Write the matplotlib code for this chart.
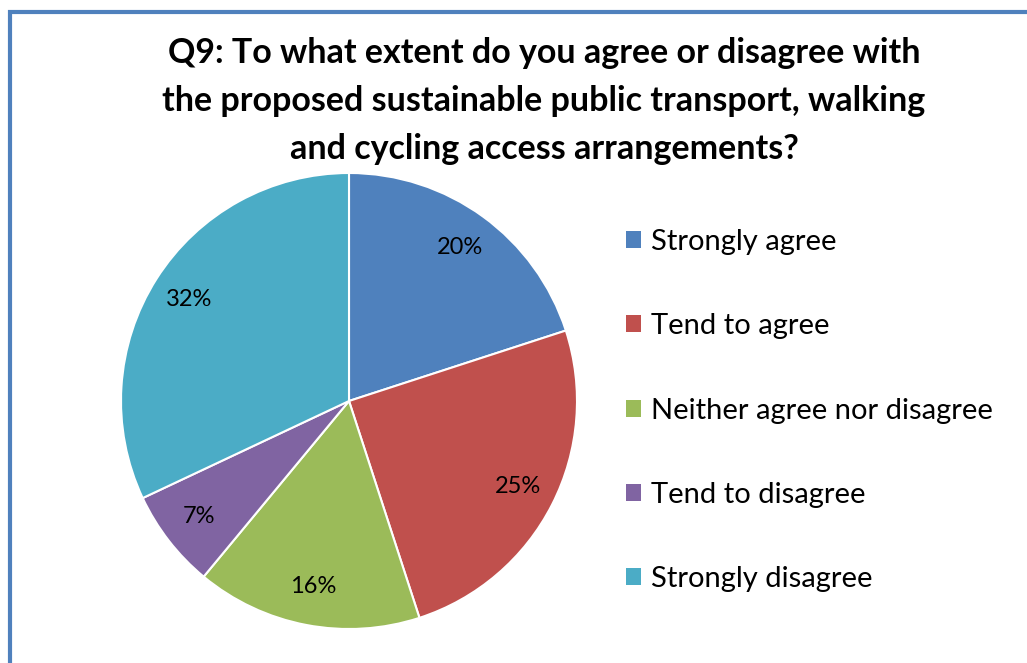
import matplotlib
matplotlib.use("Agg")
import matplotlib.pyplot as plt
from matplotlib.patches import Rectangle, Patch

plt.rcParams['font.family'] = ['Lato', 'DejaVu Sans']

# Datos
categorias = ['Strongly agree', 'Tend to agree', 'Neither agree nor disagree',
              'Tend to disagree', 'Strongly disagree']
porcentajes = [20, 25, 16, 7, 32]
colores = ['#4F81BD', '#C0504D', '#9BBB59', '#8064A2', '#4BACC6']
titulo = ('Q9: To what extent do you agree or disagree with\n'
          'the proposed sustainable public transport, walking\n'
          'and cycling access arrangements?')

W, H = 1027, 663
fig = plt.figure(figsize=(W / 100, H / 100), dpi=100)

# Borde azul del gráfico
fig.patches.append(Rectangle((10 / W, -0.05), 1.1, 1 - 12 / H + 0.05,
                             transform=fig.transFigure, fill=False,
                             edgecolor='#4F81BD', linewidth=3, zorder=0))

# Pie centrado en (349, 401) px, radio 228 px
cx, cy, r = 349, 401, 228
ax = fig.add_axes([(cx - r) / W, 1 - (cy + r) / H, 2 * r / W, 2 * r / H])
wedges, textos, autotextos = ax.pie(
    porcentajes, colors=colores, startangle=90, counterclock=False,
    autopct='%1.0f%%', pctdistance=0.83,
    wedgeprops=dict(edgecolor='white', linewidth=1.5),
    textprops=dict(fontsize=17, color='black'))
ax.set_xlim(-1, 1)
ax.set_ylim(-1, 1)
ax.set_aspect('equal')

fig.text(544 / W, 1 - 101 / H, titulo, ha='center', va='center',
         fontsize=24.5, fontweight='bold', linespacing=1.62)

handles = [Patch(facecolor=c, edgecolor='none') for c in colores]
fig.legend(handles, categorias, loc='upper left',
           bbox_to_anchor=(626 / W, 1 - 229 / H), frameon=False,
           fontsize=21, handlelength=0.52, handleheight=0.52,
           handletextpad=0.34, labelspacing=2.0,
           borderpad=0, borderaxespad=0)

fig.savefig('out.png', dpi=100)
